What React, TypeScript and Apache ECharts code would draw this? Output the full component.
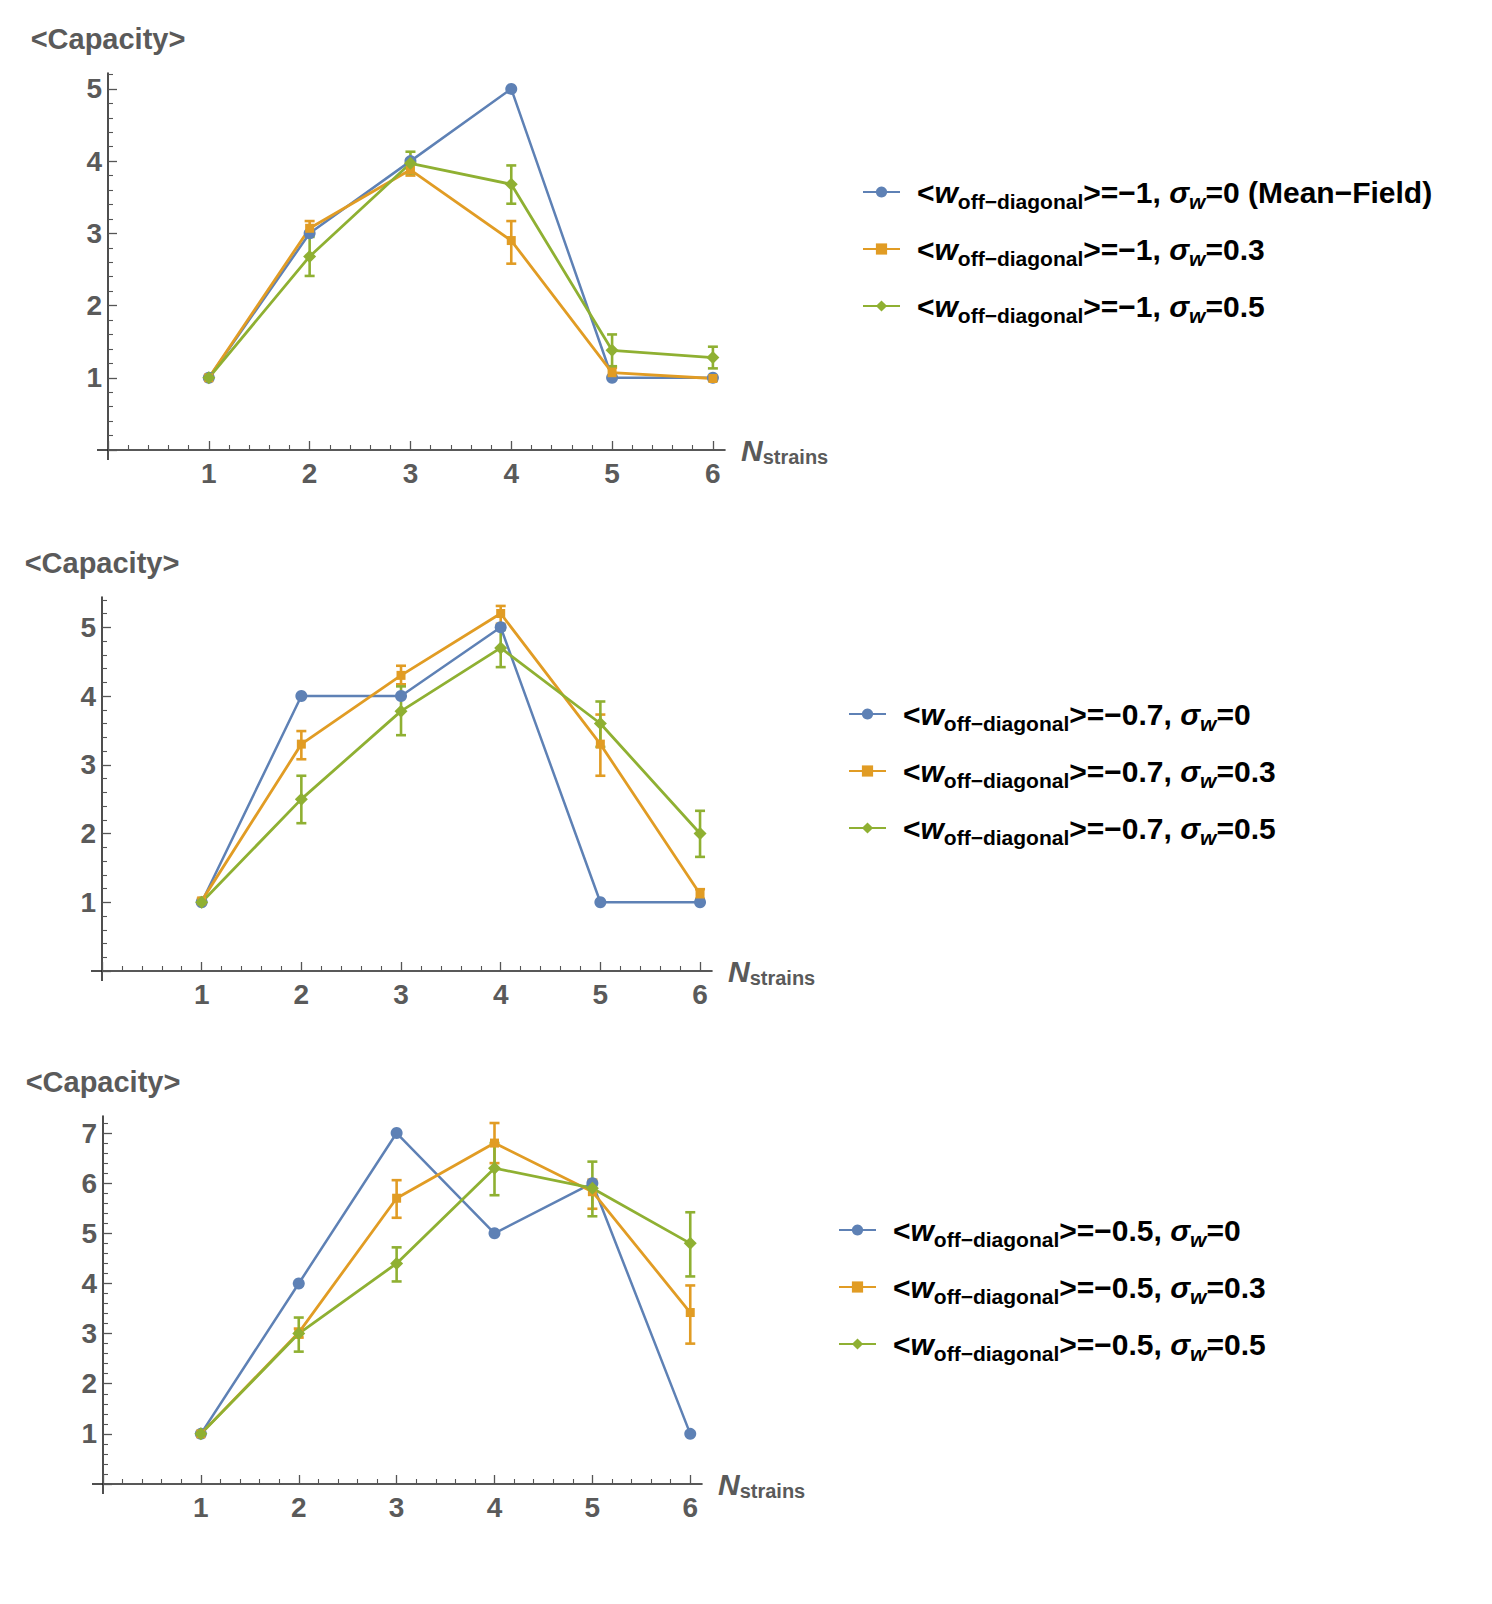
import React, { useEffect, useRef } from "react";
import * as echarts from "echarts";

// ---------- data ----------
const nStrains = [1, 2, 3, 4, 5, 6];
const xTickLabels = [1, 2, 3, 4, 5, 6];

// panel 1: <w> = -1
const blue1 = [1, 3, 4, 5, 1, 1];
const orange1 = [1.0, 3.07, 3.88, 2.9, 1.07, 0.99];
const orange1Lo = [0.98, 2.98, 3.8, 2.58, 1.0, 0.96];
const orange1Hi = [1.03, 3.17, 3.95, 3.17, 1.14, 1.02];
const green1 = [1.0, 2.68, 3.97, 3.68, 1.38, 1.28];
const green1Lo = [0.99, 2.41, 3.83, 3.41, 1.16, 1.13];
const green1Hi = [1.01, 2.95, 4.13, 3.94, 1.6, 1.43];

// panel 2: <w> = -0.7
const blue2 = [1, 4, 4, 5, 1, 1];
const orange2 = [1.02, 3.3, 4.3, 5.2, 3.3, 1.12];
const orange2Lo = [0.99, 3.08, 4.17, 5.05, 2.84, 1.05];
const orange2Hi = [1.05, 3.49, 4.44, 5.31, 3.73, 1.19];
const green2 = [1.0, 2.5, 3.78, 4.7, 3.6, 2.0];
const green2Lo = [0.99, 2.15, 3.43, 4.42, 3.26, 1.66];
const green2Hi = [1.01, 2.84, 4.14, 4.96, 3.92, 2.33];

// panel 3: <w> = -0.5
const blue3 = [1, 4, 7, 5, 6, 1];
const orange3 = [1.0, 3.02, 5.7, 6.8, 5.83, 3.42];
const orange3Lo = [0.97, 2.92, 5.31, 6.4, 5.49, 2.8];
const orange3Hi = [1.04, 3.1, 6.06, 7.2, 6.07, 3.96];
const green3 = [1.0, 3.0, 4.4, 6.3, 5.9, 4.8];
const green3Lo = [0.98, 2.64, 4.04, 5.76, 5.34, 4.14];
const green3Hi = [1.02, 3.32, 4.72, 6.8, 6.43, 5.42];

const meanW = ["−1", "−0.7", "−0.5"];
const sigmaW = ["0", "0.3", "0.5"];
const blueNote = [" (Mean−Field)", "", ""];
const yTickLabels = [
  [1, 2, 3, 4, 5],
  [1, 2, 3, 4, 5],
  [1, 2, 3, 4, 5, 6, 7],
];

// ---------- styles / layout ----------
const BLUE = "#5E81B5";
const ORANGE = "#E19C24";
const GREEN = "#8FB032";
const AXIS = "#222";
const TICK = "#555";
const LABEL = "#5a5a5a";
const FONT = "'Liberation Sans', Arial, 'DejaVu Sans', sans-serif";

const layouts = [
  { left: 108, top: 73, width: 617, height: 377, xMax: 6.12, yMax: 5.22, legLeft: 862, legTop: 177 },
  { left: 102, top: 597, width: 610, height: 374, xMax: 6.12, yMax: 5.44, legLeft: 848, legTop: 699 },
  { left: 103, top: 1116, width: 599, height: 368, xMax: 6.12, yMax: 7.34, legLeft: 838, legTop: 1215 },
];

const panelData = [
  { blue: blue1, orange: orange1, oLo: orange1Lo, oHi: orange1Hi, green: green1, gLo: green1Lo, gHi: green1Hi },
  { blue: blue2, orange: orange2, oLo: orange2Lo, oHi: orange2Hi, green: green2, gLo: green2Lo, gHi: green2Hi },
  { blue: blue3, orange: orange3, oLo: orange3Lo, oHi: orange3Hi, green: green3, gLo: green3Lo, gHi: green3Hi },
];

const richLegend = {
  sp: { width: 12, fontSize: 30, lineHeight: 40 },
  b: { fontSize: 30, fontWeight: "bold", fontFamily: FONT, color: "#000", lineHeight: 40 },
  i: { fontSize: 30, fontWeight: "bold", fontStyle: "italic", fontFamily: FONT, color: "#000", lineHeight: 40 },
  s: { fontSize: 21, fontWeight: "bold", fontFamily: FONT, color: "#000", lineHeight: 24, verticalAlign: "bottom" },
  si: { fontSize: 21, fontWeight: "bold", fontStyle: "italic", fontFamily: FONT, color: "#000", lineHeight: 24, verticalAlign: "bottom" },
};

function buildOption() {
  const grid: any[] = [];
  const xAxis: any[] = [];
  const yAxis: any[] = [];
  const series: any[] = [];
  const legend: any[] = [];
  const graphic: any[] = [];
  const legendText: Record<string, string> = {};

  layouts.forEach((L, i) => {
    grid.push({ left: L.left, top: L.top, width: L.width, height: L.height, containLabel: false });
    const yTop = Math.floor(L.yMax);
    xAxis.push({
      type: "value",
      gridIndex: i,
      min: 0,
      max: L.xMax,
      interval: 1,
      name: "{n|N}{s|strains}",
      nameLocation: "end",
      nameGap: 16,
      nameTextStyle: {
        rich: {
          n: { fontSize: 30, fontWeight: "bold", fontStyle: "italic", fontFamily: FONT, color: LABEL, lineHeight: 34 },
          s: { fontSize: 20, fontWeight: "bold", fontFamily: FONT, color: LABEL, lineHeight: 20, verticalAlign: "bottom" },
        },
      },
      axisLine: { show: true, onZero: false, lineStyle: { color: AXIS, width: 1.6 } },
      axisTick: { show: true, inside: true, length: 9, customValues: [0, ...xTickLabels], lineStyle: { color: TICK, width: 1.3 } },
      minorTick: { show: true, splitNumber: 5, length: 5, lineStyle: { color: TICK, width: 1.1 } },
      axisLabel: {
        customValues: xTickLabels,
        margin: 9,
        fontSize: 28,
        fontWeight: "bold",
        fontFamily: FONT,
        color: LABEL,
      },
      splitLine: { show: false },
    });
    yAxis.push({
      type: "value",
      gridIndex: i,
      min: 0,
      max: L.yMax,
      interval: 1,
      name: "<Capacity>",
      nameLocation: "end",
      nameGap: 20,
      nameTextStyle: { fontSize: 29, fontWeight: "bold", fontFamily: FONT, color: LABEL, align: "center" },
      axisLine: { show: true, onZero: false, lineStyle: { color: AXIS, width: 1.6 } },
      axisTick: { show: true, inside: true, length: 9, customValues: Array.from({ length: yTop + 1 }, (_, k) => k), lineStyle: { color: TICK, width: 1.3 } },
      minorTick: { show: true, splitNumber: 5, length: 5, lineStyle: { color: TICK, width: 1.1 } },
      axisLabel: {
        customValues: yTickLabels[i],
        margin: 6,
        fontSize: 28,
        fontWeight: "bold",
        fontFamily: FONT,
        color: LABEL,
      },
      splitLine: { show: false },
    });

    // small axis overhangs beyond the origin
    const bottom = L.top + L.height;
    graphic.push({ type: "line", shape: { x1: L.left - 11, y1: bottom, x2: L.left, y2: bottom }, style: { stroke: AXIS, lineWidth: 1.6 }, silent: true });
    graphic.push({ type: "line", shape: { x1: L.left, y1: bottom, x2: L.left, y2: bottom + 10 }, style: { stroke: AXIS, lineWidth: 1.6 }, silent: true });

    const D = panelData[i];
    const names = sigmaW.map((s, k) => `<w_off−diagonal>=${meanW[i]}, σ_w=${s}${k === 0 ? blueNote[i] : ""}`);
    names.forEach((nm, k) => {
      legendText[nm] = `{sp| }{b|<}{i|w}{s|off−diagonal}{b|>=${meanW[i]}, }{i|σ}{si|w}{b|=${sigmaW[k]}${k === 0 ? blueNote[i] : ""}}`;
    });

    const errSeries = (lo: number[], hi: number[], color: string) => ({
      type: "custom",
      xAxisIndex: i,
      yAxisIndex: i,
      silent: true,
      clip: false,
      data: nStrains.map((x, j) => [x, lo[j], hi[j]]),
      encode: { x: 0, y: [1, 2] },
      renderItem: (params: any, api: any) => {
        const x = api.value(0);
        const pLo = api.coord([x, api.value(1)]);
        const pHi = api.coord([x, api.value(2)]);
        const w = 5;
        const style = { stroke: color, lineWidth: 2.6, fill: null };
        return {
          type: "group",
          children: [
            { type: "line", shape: { x1: pLo[0], y1: pLo[1], x2: pHi[0], y2: pHi[1] }, style },
            { type: "line", shape: { x1: pLo[0] - w, y1: pLo[1], x2: pLo[0] + w, y2: pLo[1] }, style },
            { type: "line", shape: { x1: pHi[0] - w, y1: pHi[1], x2: pHi[0] + w, y2: pHi[1] }, style },
          ],
        };
      },
    });

    const lineSeries = (name: string, vals: number[], color: string, symbol: string, size: number, width: number) => ({
      type: "line",
      name,
      xAxisIndex: i,
      yAxisIndex: i,
      data: nStrains.map((x, j) => [x, vals[j]]),
      symbol,
      symbolSize: size,
      showSymbol: true,
      clip: false,
      lineStyle: { color, width },
      itemStyle: { color },
      emphasis: { disabled: true },
    });

    series.push(lineSeries(names[0], D.blue, BLUE, "circle", 12, 2.5));
    series.push(errSeries(D.oLo, D.oHi, ORANGE));
    series.push(lineSeries(names[1], D.orange, ORANGE, "rect", 9, 2.8));
    series.push(errSeries(D.gLo, D.gHi, GREEN));
    series.push(lineSeries(names[2], D.green, GREEN, "diamond", 13, 2.8));

    legend.push({
      data: names,
      orient: "vertical",
      left: L.legLeft,
      top: L.legTop,
      padding: 0,
      itemWidth: 37,
      itemHeight: 14,
      itemGap: 17,
      selectedMode: false,
      formatter: (nm: string) => legendText[nm],
      textStyle: { rich: richLegend },
    });
    legend[legend.length - 1].itemGap = 22;
  });

  return {
    animation: false,
    backgroundColor: "#fff",
    grid,
    xAxis,
    yAxis,
    series,
    legend,
    graphic,
  };
}

export default function App() {
  const ref = useRef<HTMLDivElement>(null);
  useEffect(() => {
    if (!ref.current) return;
    const chart = echarts.init(ref.current, undefined, { renderer: "svg" });
    chart.setOption(buildOption() as any);
    return () => chart.dispose();
  }, []);
  return (
    <div
      ref={ref}
      style={{ position: "absolute", left: 0, top: 0, width: 1492, height: 1604, background: "#fff" }}
    />
  );
}
